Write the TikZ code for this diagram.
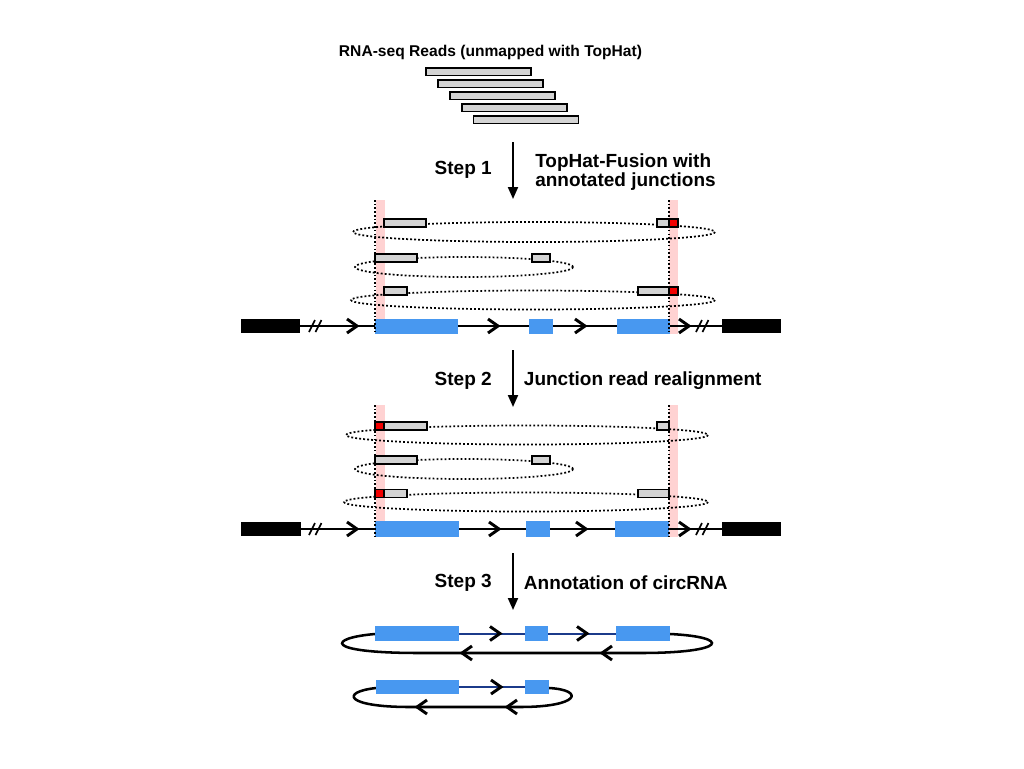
\documentclass[tikz,border=0pt]{standalone}
\usepackage{fontspec}
\setmainfont{Liberation Sans}
\usetikzlibrary{arrows.meta,positioning}
\definecolor{exonblue}{HTML}{4898F0}
\definecolor{readgray}{HTML}{D4D4D4}
\definecolor{junctpink}{HTML}{FFD2D2}
\definecolor{junctred}{HTML}{F20000}
\definecolor{circnavy}{HTML}{1B3A8A}
\tikzset{
  readbox/.style={draw=black, fill=readgray, line width=1.2pt},
  junctbox/.style={draw=black, fill=junctred, line width=1.2pt},
  exonbox/.style={fill=exonblue},
  endblock/.style={fill=black},
  geneline/.style={line width=1.5pt},
  circline/.style={line width=1.5pt, draw=circnavy},
  loopline/.style={line width=1.9pt},
  chevstroke/.style={line width=2.2pt, miter limit=4},
  breakmark/.style={line width=1.2pt},
  pairloop/.style={line width=1.3pt, dash pattern=on 1.4pt off 1.6pt},
  junctmark/.style={line width=1.2pt, dash pattern=on 1.2pt off 1.6pt},
  bandfill/.style={fill=junctpink},
  steparrow/.style={line width=1.5pt, -{Triangle[length=9pt,width=7.5pt]}},
  steplabel/.style={font=\bfseries\fontsize{14.25}{13.8}\selectfont, align=left, inner sep=0pt},
  titlelabel/.style={font=\bfseries\fontsize{11.7}{14}\selectfont, inner sep=0pt}
}
% chevrons sitting on a line
\newcommand{\chevR}[2]{\draw[chevstroke] (#1-10,#2-7) -- (#1,#2) -- (#1-10,#2+7);}
\newcommand{\chevL}[2]{\draw[chevstroke] (#1+10,#2-7) -- (#1,#2) -- (#1+10,#2+7);}
\newcommand{\breakpair}[2]{
  \draw[breakmark] (#1-7,#2+6) -- (#1-1,#2-6);
  \draw[breakmark] (#1-0.5,#2+6) -- (#1+5.5,#2-6);}

\begin{document}
\begin{tikzpicture}[x=0.75pt, y=-0.75pt]
\path[use as bounding box, fill=white] (0,0) rectangle (1024,768);

% unmapped reads
\node[titlelabel, anchor=base] (title) at (490.5,56) {RNA-seq Reads (unmapped with TopHat)};
\foreach \i in {0,...,4}
  \draw[readbox] (426+11.9*\i,68+12*\i) rectangle ++(105,7.5);

% step 1
\coordinate (a1top) at (513,142);
\coordinate (a1bot) at (513,199);
\coordinate (l1mid) at (513,170);
\draw[steparrow] (a1top) -- (a1bot);
\node[steplabel, left=15.75pt of l1mid] (step1) {Step 1};
\node[steplabel, right=16.5pt of l1mid, yshift=-1.5pt] (tool1) {TopHat-Fusion with\\annotated junctions};

\fill[bandfill] (376,200) rectangle (385,334);
\fill[bandfill] (669,200) rectangle (678,334);
\draw[pairloop] (534,232) ellipse [x radius=181, y radius=10];
\draw[pairloop] (464,267) ellipse [x radius=109, y radius=10];
\draw[pairloop] (533,300) ellipse [x radius=182, y radius=9.5];
\draw[readbox] (384,219) rectangle (426,227);
\draw[readbox] (657,219) rectangle (669,227);
\draw[junctbox] (669,219) rectangle (678,227);
\draw[readbox] (375,254) rectangle (417,262);
\draw[readbox] (532,254) rectangle (550,262);
\draw[readbox] (384,287) rectangle (407,295);
\draw[readbox] (638,287) rectangle (669,295);
\draw[junctbox] (669,287) rectangle (678,295);

\fill[endblock] (241,319) rectangle (300,333) coordinate (g1l);
\fill[endblock] (781,333) rectangle (722,319) coordinate (g1r);
\draw[geneline] (g1l |- 0,326) -- (g1r |- 0,326);
\fill[exonbox] (375,318.5) rectangle (458,334);
\fill[exonbox] (529,318.5) rectangle (553,334);
\fill[exonbox] (617,318.5) rectangle (670,334);
\chevR{357}{326} \chevR{498}{326} \chevR{585}{326} \chevR{689}{326}
\breakpair{316}{326} \breakpair{703}{326}
\draw[junctmark] (375,200) -- (375,334);
\draw[junctmark] (669,200) -- (669,334);

% step 2
\coordinate (a2top) at (513,350);
\coordinate (a2bot) at (513,407);
\coordinate (l2mid) at (513,381);
\draw[steparrow] (a2top) -- (a2bot);
\node[steplabel, left=15.75pt of l2mid] (step2) {Step 2};
\node[steplabel, right=8pt of l2mid] (tool2) {Junction read realignment};

\fill[bandfill] (376,405) rectangle (385,537);
\fill[bandfill] (669,405) rectangle (678,537);
\draw[pairloop] (527,435) ellipse [x radius=181, y radius=9.5];
\draw[pairloop] (464,469) ellipse [x radius=109, y radius=10];
\draw[pairloop] (526,502) ellipse [x radius=182, y radius=9.5];
\draw[readbox] (384,422) rectangle (427,430);
\draw[junctbox] (375,422) rectangle (384,430);
\draw[readbox] (657,422) rectangle (669,430);
\draw[readbox] (375,456) rectangle (417,464);
\draw[readbox] (532,456) rectangle (550,464);
\draw[readbox] (384,489.5) rectangle (407,497.5);
\draw[junctbox] (375,489.5) rectangle (384,497.5);
\draw[readbox] (638,489.5) rectangle (669,497.5);

\fill[endblock] (241,522) rectangle (301,536) coordinate (g2l);
\fill[endblock] (781,536) rectangle (722,522) coordinate (g2r);
\draw[geneline] (g2l |- 0,529) -- (g2r |- 0,529);
\fill[exonbox] (375,521) rectangle (459,537);
\fill[exonbox] (526,521) rectangle (550,537);
\fill[exonbox] (615,521) rectangle (669,537);
\chevR{357}{529} \chevR{499}{529} \chevR{586}{529} \chevR{689}{529}
\breakpair{316}{529} \breakpair{703}{529}
\draw[junctmark] (375,405) -- (375,537);
\draw[junctmark] (669,405) -- (669,537);

% step 3
\coordinate (a3top) at (513,553);
\coordinate (a3bot) at (513,610);
\coordinate (l3mid) at (513,583);
\draw[steparrow] (a3top) -- (a3bot);
\node[steplabel, left=15.75pt of l3mid] (step3) {Step 3};
\node[steplabel, right=8pt of l3mid] (tool3) {Annotation of circRNA};

% circRNA with three exons
\coordinate (c1in) at (375,634);
\coordinate (c1out) at (670,634);
\draw[circline] (459,633.5) -- (616,633.5);
\draw[loopline] (c1in) .. controls (328,638) and (322,653) .. (420,653)
  -- (640,653) .. controls (728,653) and (732,637) .. (c1out);
\fill[exonbox] (375,626) rectangle (459,641);
\fill[exonbox] (525,626) rectangle (548,641);
\fill[exonbox] (616,626) rectangle (670,641);
\chevR{500}{633.5} \chevR{587}{633.5}
\chevL{462}{653} \chevL{602}{653}

% circRNA with two exons
\coordinate (c2in) at (376,688);
\coordinate (c2out) at (549,688);
\draw[circline] (459,687) -- (525,687);
\draw[loopline] (c2in) .. controls (340,692) and (345,707) .. (410,707)
  -- (520,707) .. controls (580,707) and (585,690) .. (c2out);
\fill[exonbox] (376,680) rectangle (459,694);
\fill[exonbox] (525,680) rectangle (549,694);
\chevR{501}{687}
\chevL{417}{707} \chevL{507}{707}
\end{tikzpicture}
\end{document}
